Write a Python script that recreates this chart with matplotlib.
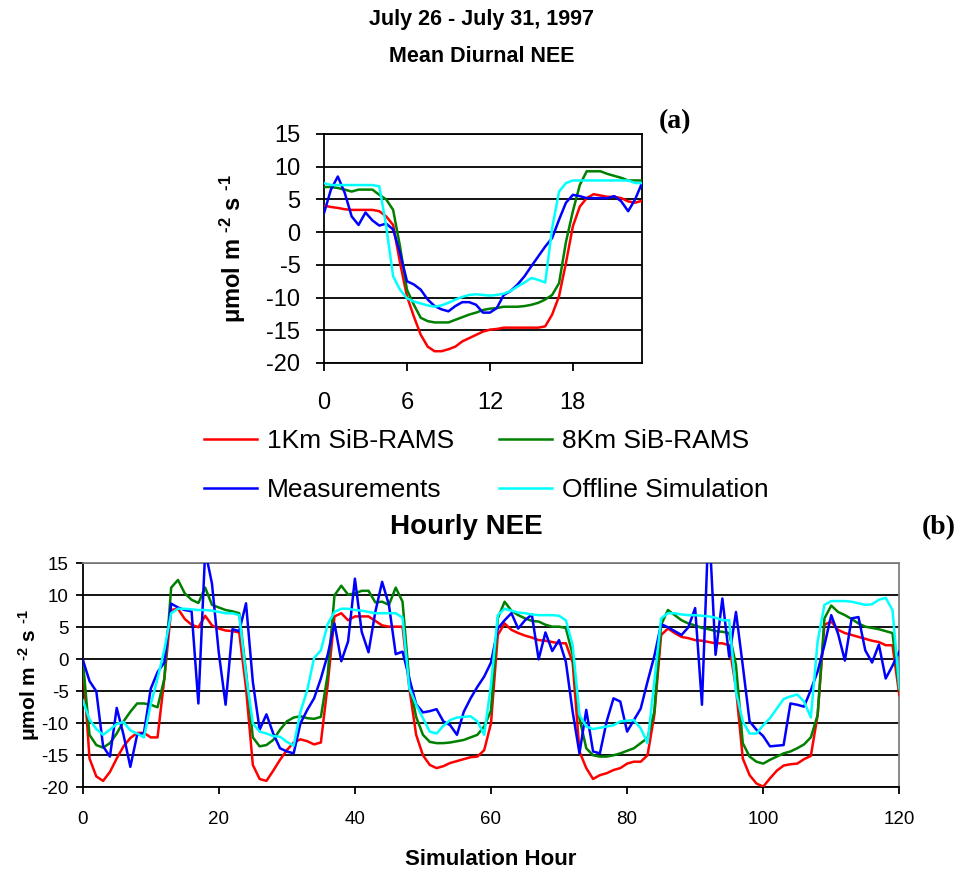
import numpy as np
import matplotlib.pyplot as plt

plt.rcParams['font.family'] = ['Liberation Sans', 'DejaVu Sans']
plt.rcParams['axes.unicode_minus'] = False
plt.rcParams['mathtext.fontset'] = 'custom'
plt.rcParams['mathtext.rm'] = 'Liberation Sans:bold'
plt.rcParams['mathtext.bf'] = 'Liberation Sans:bold'
plt.rcParams['mathtext.default'] = 'bf'

# (a) mean diurnal cycle, half-hourly, hour 0 .. 23
diurnal_hours = np.arange(0, 23.5, 0.5)
diurnal_1km = [4.05, 3.85, 3.7, 3.5, 3.4, 3.4, 3.4, 3.4, 3.2, 2.4,
               1.1, -4.7, -9.8, -12.9, -15.7, -17.5, -18.2, -18.2, -17.9, -17.5,
               -16.7, -16.2, -15.7, -15.2, -14.9, -14.8, -14.6, -14.6, -14.6, -14.6,
               -14.6, -14.6, -14.4, -12.6, -9.8, -4.7, 0.9, 3.9, 5.2, 5.8,
               5.6, 5.4, 5.4, 5.2, 4.7, 4.5, 4.8]
diurnal_8km = [6.9, 6.9, 6.75, 6.5, 6.2, 6.5, 6.5, 6.5, 5.7, 5.0,
               3.4, -2.2, -8.8, -11.1, -13.1, -13.6, -13.8, -13.8, -13.8, -13.4,
               -13.0, -12.6, -12.3, -11.9, -11.7, -11.6, -11.4, -11.4, -11.4, -11.3,
               -11.1, -10.8, -10.3, -9.6, -7.8, -1.5, 3.2, 7.2, 9.3, 9.3,
               9.3, 8.9, 8.6, 8.3, 7.9, 7.9, 7.9]
diurnal_meas = [2.9, 6.5, 8.5, 6.0, 2.4, 1.1, 3.0, 1.8, 1.0, 1.3,
                0.4, -3.2, -7.5, -8.0, -8.8, -10.3, -11.3, -11.8, -12.1, -11.3,
                -10.7, -10.7, -11.1, -12.3, -12.3, -11.6, -9.6, -9.0, -8.0, -6.75,
                -5.2, -3.7, -2.2, -0.9, 1.9, 4.5, 5.7, 5.5, 5.2, 5.2,
                5.2, 5.2, 5.5, 4.7, 3.2, 5.0, 7.5]
diurnal_offline = [7.5, 7.2, 7.2, 7.2, 7.2, 7.2, 7.2, 7.2, 7.0, 0.9,
                   -6.75, -8.8, -10.1, -10.6, -10.9, -11.2, -11.4, -11.2, -10.8, -10.3,
                   -9.9, -9.6, -9.5, -9.6, -9.7, -9.6, -9.4, -9.0, -8.3, -7.7,
                   -7.0, -7.3, -7.7, 0.6, 6.2, 7.5, 7.9, 7.9, 7.9, 7.9,
                   7.9, 7.9, 7.9, 7.9, 7.9, 7.5, 7.5]

# (b) hourly NEE, simulation hour 0 .. 120
sim_hours = np.arange(0, 121)
hourly_1km = [0, -15.5, -18.3, -19, -17.6, -15.5, -13.6, -12.3, -11.5, -11.5,
              -12.2, -12.2, -3, 7.7, 7.9, 6.3, 5.4, 5.0, 6.8, 5.3, 4.8,
              4.5, 4.4, 4.2, -4.5, -16.5, -18.7, -19, -17.4, -15.7, -14.2,
              -13, -12.5, -12.8, -13.3, -13, -4, 6.7, 7.2, 6.1, 6.7,
              6.7, 6.7, 6.0, 5.3, 5.1, 5.1, 5.1, -4.5, -11.8, -15,
              -16.5, -17, -16.7, -16.2, -15.9, -15.6, -15.3, -15.2, -14.2, -10,
              3.8, 5.6, 4.6, 4.1, 3.7, 3.4, 3.0, 2.9, 2.7, 2.5,
              2.5, -0.5, -14.4, -17, -18.7, -18.1, -17.8, -17.3, -17, -16.3,
              -16, -16, -15, -8.7, 3.8, 4.8, 4.1, 3.5, 3.3, 3.0,
              2.9, 2.7, 2.5, 2.5, 2.2, -4.5, -15.5, -18.1, -19.4, -19.9,
              -18.6, -17.4, -16.6, -16.4, -16.3, -15.6, -15.1, -8.7, 5.4, 5.9,
              4.6, 4.1, 3.8, 3.5, 3.2, 2.9, 2.7, 2.2, 2.2, -5.6]
hourly_8km = [0, -11.8, -13.4, -13.8, -13.1, -11.6, -9.7, -8.2, -6.9, -6.9,
              -7.1, -7.5, -3, 11.2, 12.4, 10.3, 9.3, 8.8, 11.2, 8.5, 8.1,
              7.7, 7.5, 7.2, -2, -12.2, -13.6, -13.4, -12.6, -11, -9.7,
              -9.1, -8.9, -9.2, -9.3, -9, -2.4, 10, 11.5, 10.1, 10.3,
              10.7, 10.7, 8.9, 9, 8.5, 11.2, 9, -3.5, -9, -11.8,
              -12.9, -13.1, -13.1, -13, -12.8, -12.6, -12.2, -11.8, -10.5, -8,
              6.4, 9, 7.6, 6.9, 6.4, 6, 5.9, 5.4, 5.1, 5.1,
              4.9, 0.7, -9.2, -13.9, -15, -15.2, -15.2, -15, -14.7, -14.3,
              -13.9, -13.1, -12.3, -8.2, 5.4, 7.7, 6.9, 6.1, 5.6, 5.3,
              4.9, 4.7, 4.4, 4.3, 4.1, -0.9, -13.1, -15.2, -16, -16.3,
              -15.7, -15.2, -14.7, -14.4, -13.9, -13.3, -12.2, -8.7, 6.4, 8.4,
              7.4, 6.9, 6.3, 5.6, 5.1, 4.9, 4.7, 4.4, 4.1, -4.8]
hourly_meas = [0, -3.4, -5, -13.6, -15.2, -7.6, -11.8, -16.8, -11.8, -11.5,
               -4.6, -2, -0.5, 8.7, 8.1, 7.7, 7.5, -6.9, 17, 11.8, 1,
               -7.1, 4.7, 4.4, 8.75, -3.5, -11, -8.6, -11.6, -13.9, -14.4,
               -14.7, -10, -7.9, -6.1, -3, 0.7, 5.6, -0.3, 2.8, 12.6,
               4.3, 1.1, 7.4, 12.1, 8.5, 0.8, 1.2, -3, -7, -8.3,
               -8.1, -7.8, -9.7, -10.3, -11.8, -8.2, -6.1, -4.3, -2.7, -0.5,
               4.8, 6.1, 7.2, 4.8, 6.1, 7, 0, 4.2, 1.3, 3,
               -0.4, -8.2, -14.7, -7.9, -14.4, -14.7, -9.7, -6.1, -6.6, -11.3,
               -9.5, -7.7, -3.5, 0.5, 5.5, 5, 4.4, 3.8, 5, 8,
               -7.1, 22, 0.7, 9.5, 0.4, 7.4, -1, -9.7, -11, -12,
               -13.6, -13.5, -13.4, -6.9, -7.1, -7.4, -4.8, -1.9, 2.2, 6.9,
               4, -0.2, 6.4, 6.6, 1.4, -0.5, 2.3, -3, -1, 1.2]
hourly_offline = [-6.4, -9.4, -10.9, -11.8, -11, -10.1, -9.8, -11.1, -11.6, -12.2,
                  -7, -3, 1.5, 7.2, 7.9, 7.9, 7.8, 7.7, 7.7, 7.6, 7.4,
                  7.2, 7.2, 6.9, -2.4, -10, -11.3, -11.6, -12, -12.1, -12.9,
                  -13.5, -8.2, -4.8, 0.2, 1.4, 5.5, 7.4, 7.9, 7.9, 7.7,
                  7.6, 7.4, 7.2, 7.2, 7.2, 7.2, 6.5, -4.5, -7.1, -9.2,
                  -11.3, -11.6, -10.4, -9.5, -9.1, -9, -8.9, -9.7, -11.8, -4,
                  6.9, 7.9, 7.6, 7.3, 7.2, 7, 6.9, 6.9, 6.9, 6.8,
                  6.1, 2.2, -8.7, -10.5, -10.9, -10.7, -10.5, -10.3, -9.7, -9.6,
                  -9.5, -10.8, -13.1, -3.5, 6.4, 7.2, 7.2, 7, 6.9, 6.9,
                  6.8, 6.7, 6.5, 6.1, 6.1, -5.1, -9.7, -11.6, -11.6, -10.3,
                  -9.2, -7.7, -6.2, -5.8, -5.5, -6.6, -9.1, 2.8, 8.5, 9.1,
                  9.1, 9.1, 9, 8.75, 8.5, 8.6, 9.3, 9.6, 7.7, -4.5]

series_names = ['1Km SiB-RAMS', '8Km SiB-RAMS', 'Measurements', 'Offline Simulation']
series_colors = ['#ff0000', '#008000', '#0000ff', '#00ffff']
yticks = np.arange(-20, 16, 5)
unit_label = r'μmol m $^{\text{-2}}$ s $^{\text{-1}}$'

W, H = 963, 874
fig = plt.figure(figsize=(W / 100, H / 100), dpi=100)

# ---- (a) mean diurnal ----
ax1 = fig.add_axes([324 / W, 1 - 363 / H, (642 - 324) / W, (363 - 134) / H])
lines = []
for y, name, c in zip([diurnal_1km, diurnal_8km, diurnal_meas, diurnal_offline],
                      series_names, series_colors):
    ln, = ax1.plot(diurnal_hours, y, color=c, lw=1.8, label=name, zorder=3)
    lines.append(ln)
ax1.set_xlim(0, 23)
ax1.set_ylim(-20, 15)
ax1.set_xticks([0, 6, 12, 18])
ax1.set_yticks(yticks)
ax1.yaxis.grid(True, color='black', lw=1.3)
ax1.set_axisbelow(True)
ax1.tick_params(direction='out', length=6, width=1.3, labelsize=17, colors='black')
ax1.tick_params(axis='x', pad=15)
ax1.tick_params(axis='y', pad=11)
for s in ax1.spines.values():
    s.set_linewidth(1.3)
    s.set_color('black')
ax1.set_ylabel(unit_label, fontsize=17, fontweight='bold')
ax1.yaxis.set_label_coords(-0.24, 0.5)

fig.text(0.5, 1 - 20 / H, 'July 26 - July 31, 1997', ha='center', va='center',
         fontsize=15.5, fontweight='bold')
fig.text(0.5, 1 - 57 / H, 'Mean Diurnal NEE', ha='center', va='center',
         fontsize=15.5, fontweight='bold')
fig.text(675 / W, 1 - 122 / H, '(a)', ha='center', va='center', fontsize=20,
         fontweight='bold', family='Liberation Serif')

# legend, two columns, row order 1Km/8Km then Measurements/Offline
fig.legend([lines[0], lines[2], lines[1], lines[3]],
           [series_names[0], series_names[2], series_names[1], series_names[3]],
           ncol=2, frameon=False, loc='upper left',
           bbox_to_anchor=(204 / W, 1 - 429 / H), borderpad=0, borderaxespad=0,
           fontsize=19, handlelength=2.0, handletextpad=0.38,
           columnspacing=1.7, labelspacing=0.95)

# ---- (b) hourly ----
ax2 = fig.add_axes([82.7 / W, 1 - 787.3 / H, (899.3 - 82.7) / W, (787.3 - 563.3) / H])
for y, name, c in zip([hourly_1km, hourly_8km, hourly_meas, hourly_offline],
                      series_names, series_colors):
    ax2.plot(sim_hours, y, color=c, lw=1.8, zorder=3)
ax2.set_xlim(0, 120)
ax2.set_ylim(-20, 15)
ax2.set_xticks(np.arange(0, 121, 20))
ax2.set_yticks(yticks)
ax2.yaxis.grid(True, color='black', lw=1.3)
ax2.set_axisbelow(True)
ax2.tick_params(direction='out', length=5, width=1.3, labelsize=13.5, colors='black')
ax2.tick_params(axis='x', pad=12)
ax2.tick_params(axis='y', pad=5)
for side, s in ax2.spines.items():
    s.set_linewidth(1.3)
    s.set_color('black' if side in ('left', 'bottom') else '#808080')
ax2.set_ylabel(unit_label, fontsize=15, fontweight='bold')
ax2.yaxis.set_label_coords(-0.05, 0.5)
ax2.set_xlabel('Simulation Hour', fontsize=16, fontweight='bold', labelpad=15)

fig.text(466 / W, 1 - 527 / H, 'Hourly NEE', ha='center', va='center',
         fontsize=20, fontweight='bold')
fig.text(939 / W, 1 - 528 / H, '(b)', ha='center', va='center', fontsize=20,
         fontweight='bold', family='Liberation Serif')

fig.savefig('out.png', dpi=100)
